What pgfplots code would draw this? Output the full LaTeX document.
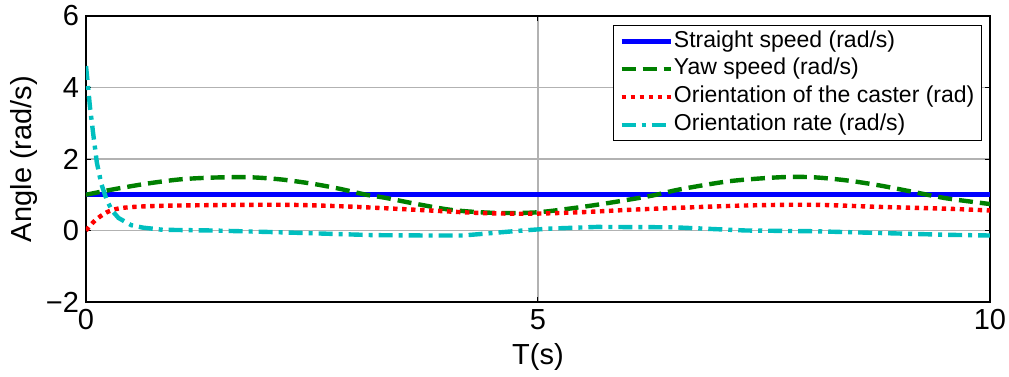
\documentclass[border=0pt]{standalone}
\usepackage{fontspec}
\setmainfont{Liberation Sans}
\usepackage{pgfplots}
\pgfplotsset{compat=1.18}

\definecolor{sblue}{RGB}{0,0,255}
\definecolor{sgreen}{RGB}{0,128,0}
\definecolor{sred}{RGB}{255,0,0}
\definecolor{scyan}{RGB}{0,191,191}

\begin{document}
\begin{tikzpicture}
\begin{axis}[
  at={(43pt,37pt)}, anchor=south west,
  scale only axis, width=452pt, height=143pt,
  xmin=0, xmax=10, ymin=-2, ymax=6,
  xtick={0,5,10}, ytick={-2,0,2,4,6},
  yticklabels={−2,0,2,4,6},
  tick align=inside, major tick length=2.5pt,
  tick style={black, line width=0.5pt},
  axis line style={black, line width=0.8pt},
  grid=major,
  major grid style={gray!60, line width=0.6pt},
  /pgf/number format/assume math mode=true,
  ticklabel style={font=\fontsize{14.5}{16}\selectfont},
  xticklabel style={yshift=0pt},
  label style={font=\fontsize{14.5}{16}\selectfont},
  xlabel={T(s)},
  ylabel={Angle (rad/s)},
  xlabel style={yshift=0pt},
  ylabel style={yshift=-2.5pt},
  legend style={
    at={(1,1)}, anchor=north east, xshift=-4pt, yshift=-4.5pt,
    draw=black, line width=0.6pt, fill=white,
    font=\fontsize{11.5}{12}\selectfont,
    inner xsep=3pt, inner ysep=2pt,
    row sep=2.25pt,
    nodes={inner sep=0.5pt, text height=8.2pt, text depth=2.5pt},
  },
  legend cell align=left,
  legend image code/.code={\draw[#1, line cap=butt] (0pt,0pt) -- (24.5pt,0pt);},
  /tikz/every odd column/.append style={inner xsep=1.5pt},
  /tikz/every even column/.append style={inner xsep=3pt},
]
% straight speed
\addplot[sblue, line width=2.4pt] coordinates {(0,1) (10,1)};
\addlegendentry{Straight speed (rad/s)}

% yaw speed
\addplot[sgreen, line width=2.2pt, smooth, dash pattern=on 7pt off 3.5pt] coordinates {
(0,1.00) (0.3,1.15) (0.67,1.31) (1.04,1.43) (1.4,1.48) (1.8,1.49)
(2.15,1.43) (2.5,1.31) (2.8,1.17) (3.1,1.00) (3.3,0.92) (3.62,0.76)
(4.0,0.59) (4.3,0.52) (4.6,0.49) (5.0,0.51) (5.46,0.65) (5.83,0.79)
(6.27,0.98) (6.57,1.15) (7.12,1.38) (7.68,1.49) (8.04,1.49) (8.42,1.40)
(8.78,1.26) (9.15,1.08) (9.52,0.90) (10,0.74)};
\addlegendentry{Yaw speed (rad/s)}

% caster orientation
\addplot[sred, line width=2.2pt, smooth, dash pattern=on 2.2pt off 2.3pt] coordinates {
(0,0) (0.1,0.28) (0.23,0.51) (0.37,0.62) (0.6,0.67) (1.04,0.70)
(2.15,0.72) (2.8,0.68) (3.25,0.63) (3.8,0.56) (4.36,0.49) (4.9,0.47)
(5.46,0.51) (6.02,0.58) (6.5,0.63) (7.3,0.70) (8.04,0.72) (8.78,0.66)
(9.52,0.61) (10,0.56)};
\addlegendentry{Orientation of the caster (rad)}

% orientation rate
\addplot[scyan, line width=2.2pt, dash pattern=on 7pt off 3pt on 2pt off 3pt] coordinates {
(0,4.60) (0.02,4.10) (0.044,3.45) (0.08,2.70) (0.12,1.90) (0.17,1.30)
(0.23,0.85) (0.29,0.55) (0.36,0.35) (0.5,0.15) (0.63,0.08) (0.85,0.02)
(1.4,0.00) (2.15,-0.05) (3.18,-0.13) (3.8,-0.14) (4.17,-0.14) (4.73,-0.02)
(5.1,0.05) (5.65,0.10) (6.5,0.09) (7.3,0.00) (8.04,-0.02) (8.78,-0.07)
(9.52,-0.12) (10,-0.14)};
\addlegendentry{Orientation rate (rad/s)}
\end{axis}
\pgfresetboundingbox
\path (0,0) rectangle (504.5pt,188pt);
\end{tikzpicture}
\end{document}
